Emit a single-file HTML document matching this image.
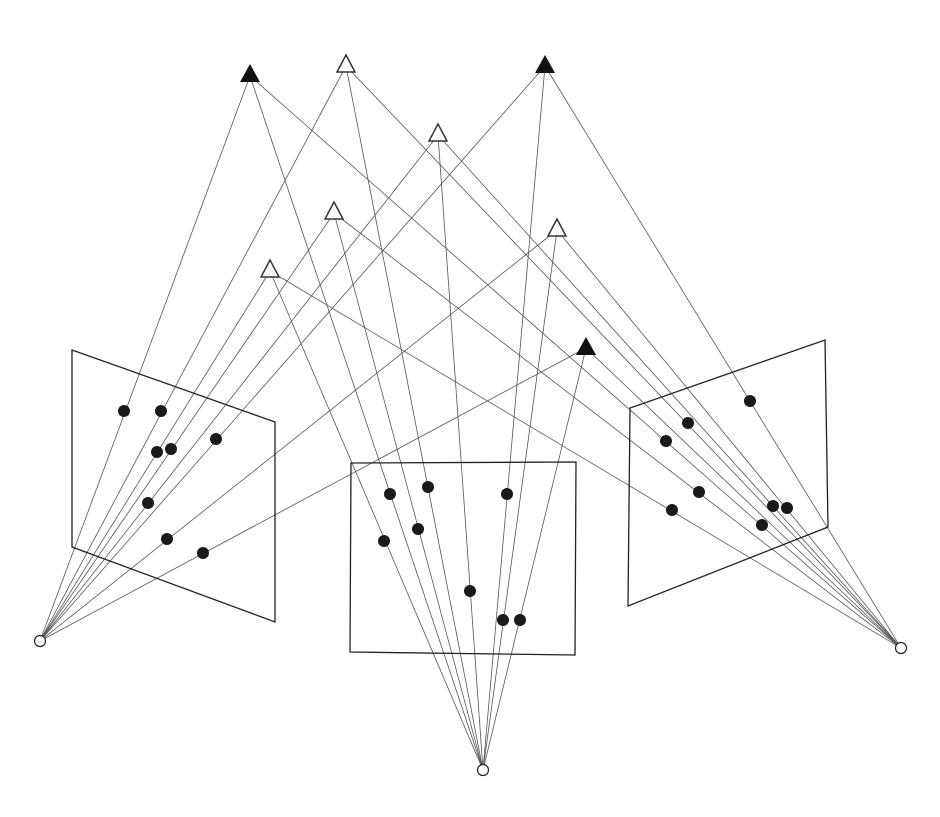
<!DOCTYPE html>
<html><head><style>html,body{margin:0;padding:0;background:#fff}</style></head>
<body>
<svg width="940" height="812" viewBox="0 0 940 812" xmlns="http://www.w3.org/2000/svg">
<g stroke="#555" stroke-width="0.8" fill="none">
<!-- camera 1 -->
<line x1="40" y1="641" x2="250" y2="76"/><line x1="40" y1="641" x2="346" y2="66"/>
<line x1="40" y1="641" x2="545" y2="66"/><line x1="40" y1="641" x2="438" y2="135"/>
<line x1="40" y1="641" x2="334" y2="213"/><line x1="40" y1="641" x2="557" y2="230"/>
<line x1="40" y1="641" x2="270" y2="271"/><line x1="40" y1="641" x2="586" y2="348"/>
<!-- camera 2 -->
<line x1="483" y1="770" x2="250" y2="76"/><line x1="483" y1="770" x2="346" y2="66"/>
<line x1="483" y1="770" x2="545" y2="66"/><line x1="483" y1="770" x2="438" y2="135"/>
<line x1="483" y1="770" x2="334" y2="213"/><line x1="483" y1="770" x2="557" y2="230"/>
<line x1="483" y1="770" x2="270" y2="271"/><line x1="483" y1="770" x2="586" y2="348"/>
<!-- camera 3 -->
<line x1="901" y1="648" x2="250" y2="76"/><line x1="901" y1="648" x2="346" y2="66"/>
<line x1="901" y1="648" x2="545" y2="66"/><line x1="901" y1="648" x2="438" y2="135"/>
<line x1="901" y1="648" x2="334" y2="213"/><line x1="901" y1="648" x2="557" y2="230"/>
<line x1="901" y1="648" x2="270" y2="271"/><line x1="901" y1="648" x2="586" y2="348"/>
</g>
<g stroke="#222" stroke-width="1.3" fill="none">
<polygon points="72,350 275,422 275,622 72,547"/>
<polygon points="351,463 576,462 575,655 350,652"/>
<polygon points="630,408 825,340 828,527 628,606"/>
</g>
<g fill="#1a1a1a">
<circle cx="124" cy="411" r="6"/><circle cx="161" cy="411" r="6"/><circle cx="157" cy="452" r="6"/>
<circle cx="171" cy="449" r="6"/><circle cx="216" cy="439" r="6"/><circle cx="148" cy="503" r="6"/>
<circle cx="167" cy="539" r="6"/><circle cx="203" cy="553" r="6"/>
<circle cx="390" cy="494" r="6"/><circle cx="428" cy="487" r="6"/><circle cx="507" cy="494" r="6"/>
<circle cx="418" cy="529" r="6"/><circle cx="384" cy="541" r="6"/><circle cx="470" cy="591" r="6"/>
<circle cx="503" cy="620" r="6"/><circle cx="520" cy="620" r="6"/>
<circle cx="750" cy="401" r="6"/><circle cx="688" cy="423" r="6"/><circle cx="666" cy="441" r="6"/>
<circle cx="699" cy="492" r="6"/><circle cx="672" cy="510" r="6"/><circle cx="773" cy="506" r="6"/>
<circle cx="787" cy="508" r="6"/><circle cx="762" cy="525" r="6"/>
</g>
<g fill="#111">
<polygon points="250,64 240,82 260,82"/>
<polygon points="545,55 535,73 555,73"/>
<polygon points="586,337 576,355 596,355"/>
</g>
<g fill="#fff" stroke="#333" stroke-width="1.5">
<polygon points="346,55 337,72 355,72"/>
<polygon points="438,124 429,141 447,141"/>
<polygon points="334,202 325,219 343,219"/>
<polygon points="557,219 548,236 566,236"/>
<polygon points="270,260 261,277 279,277"/>
</g>
<g fill="#fff" stroke="#222" stroke-width="1.2">
<circle cx="40" cy="641" r="5.5"/><circle cx="483" cy="770" r="5.5"/><circle cx="901" cy="648" r="5.5"/>
</g>
</svg>
</body></html>
